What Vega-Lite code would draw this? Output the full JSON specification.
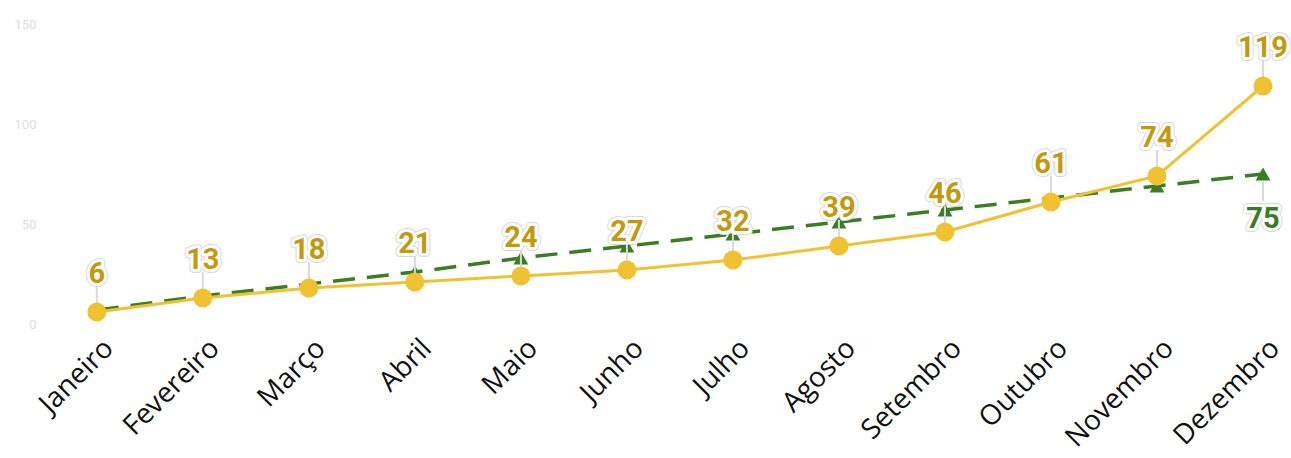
{
  "$schema": "https://vega.github.io/schema/vega-lite/v6.json",
  "autosize": {"type": "none"},
  "padding": {"left": 40, "top": 24, "right": 0, "bottom": 134},
  "width": 1251,
  "height": 300,
  "background": "white",
  "config": {"view": {"stroke": null}},
  "data": {
    "values": [
      {"mes": "Janeiro", "realizado": 6, "meta": 7},
      {"mes": "Fevereiro", "realizado": 13, "meta": 14},
      {"mes": "Março", "realizado": 18, "meta": 20},
      {"mes": "Abril", "realizado": 21, "meta": 26},
      {"mes": "Maio", "realizado": 24, "meta": 33},
      {"mes": "Junho", "realizado": 27, "meta": 39},
      {"mes": "Julho", "realizado": 32, "meta": 45},
      {"mes": "Agosto", "realizado": 39, "meta": 51},
      {"mes": "Setembro", "realizado": 46, "meta": 57},
      {"mes": "Outubro", "realizado": 61, "meta": 63},
      {"mes": "Novembro", "realizado": 74, "meta": 69},
      {"mes": "Dezembro", "realizado": 119, "meta": 75}
    ]
  },
  "encoding": {
    "x": {
      "field": "mes",
      "type": "ordinal",
      "sort": null,
      "scale": {"type": "point", "padding": 0.4, "align": 0.67},
      "axis": {
        "title": null,
        "domain": false,
        "ticks": false,
        "labelAngle": -45,
        "labelAlign": "right",
        "labelBaseline": "middle",
        "labelFont": "Open Sans",
        "labelFontSize": 28,
        "labelColor": "#111111",
        "labelPadding": 20,
        "labelOffset": 12,
        "labelOverlap": false,
        "labelBound": false,
        "labelLimit": 0
      }
    }
  },
  "layer": [
    {
      "mark": {"type": "line", "color": "#3a7d22", "strokeWidth": 3.5, "strokeDash": [22, 12]},
      "encoding": {
        "y": {
          "field": "meta",
          "type": "quantitative",
          "scale": {"domain": [0, 150], "nice": false, "zero": true},
          "axis": {
            "title": null,
            "values": [0, 50, 100, 150],
            "grid": false,
            "domain": false,
            "ticks": false,
            "labelFont": "Roboto",
            "labelFontSize": 13,
            "labelColor": "#dedede",
            "labelPadding": 4
          }
        }
      }
    },
    {
      "mark": {"type": "point", "shape": "triangle-up", "filled": true, "size": 220, "color": "#3a7d22", "opacity": 1},
      "encoding": {"y": {"field": "meta", "type": "quantitative"}}
    },
    {
      "transform": [{"filter": "datum.mes == 'Dezembro'"}],
      "mark": {"type": "rule", "color": "#dadada", "strokeWidth": 2, "yOffset": 7, "y2Offset": 27},
      "encoding": {"y": {"field": "meta", "type": "quantitative"}, "y2": {"field": "meta"}}
    },
    {
      "mark": {"type": "rule", "color": "#dadada", "strokeWidth": 2, "yOffset": -8, "y2Offset": -26},
      "encoding": {"y": {"field": "realizado", "type": "quantitative"}, "y2": {"field": "realizado"}}
    },
    {
      "mark": {"type": "line", "color": "#f0c232", "strokeWidth": 3},
      "encoding": {"y": {"field": "realizado", "type": "quantitative"}}
    },
    {
      "mark": {"type": "circle", "size": 361, "color": "#f0c232", "opacity": 1},
      "encoding": {"y": {"field": "realizado", "type": "quantitative"}}
    },
    {
      "mark": {"type": "text", "font": "Roboto", "fontWeight": "bold", "fontSize": 29, "baseline": "alphabetic", "dy": -29, "fill": "#ffffff", "stroke": "#d9d9d9", "strokeWidth": 8, "strokeJoin": "round"},
      "encoding": {"y": {"field": "realizado", "type": "quantitative"}, "text": {"field": "realizado"}}
    },
    {
      "mark": {"type": "text", "font": "Roboto", "fontWeight": "bold", "fontSize": 29, "baseline": "alphabetic", "dy": -29, "fill": "#ffffff", "stroke": "#ffffff", "strokeWidth": 6, "strokeJoin": "round"},
      "encoding": {"y": {"field": "realizado", "type": "quantitative"}, "text": {"field": "realizado"}}
    },
    {
      "mark": {"type": "text", "font": "Roboto", "fontWeight": "bold", "fontSize": 29, "baseline": "alphabetic", "dy": -29, "fill": "#c39a0d"},
      "encoding": {"y": {"field": "realizado", "type": "quantitative"}, "text": {"field": "realizado"}}
    },
    {
      "transform": [{"filter": "datum.mes == 'Dezembro'"}],
      "mark": {"type": "text", "font": "Roboto", "fontWeight": "bold", "fontSize": 29, "baseline": "alphabetic", "dy": 54, "fill": "#ffffff", "stroke": "#d9d9d9", "strokeWidth": 8, "strokeJoin": "round"},
      "encoding": {"y": {"field": "meta", "type": "quantitative"}, "text": {"field": "meta"}}
    },
    {
      "transform": [{"filter": "datum.mes == 'Dezembro'"}],
      "mark": {"type": "text", "font": "Roboto", "fontWeight": "bold", "fontSize": 29, "baseline": "alphabetic", "dy": 54, "fill": "#ffffff", "stroke": "#ffffff", "strokeWidth": 6, "strokeJoin": "round"},
      "encoding": {"y": {"field": "meta", "type": "quantitative"}, "text": {"field": "meta"}}
    },
    {
      "transform": [{"filter": "datum.mes == 'Dezembro'"}],
      "mark": {"type": "text", "font": "Roboto", "fontWeight": "bold", "fontSize": 29, "baseline": "alphabetic", "dy": 54, "fill": "#3a7d22"},
      "encoding": {"y": {"field": "meta", "type": "quantitative"}, "text": {"field": "meta"}}
    }
  ]
}
